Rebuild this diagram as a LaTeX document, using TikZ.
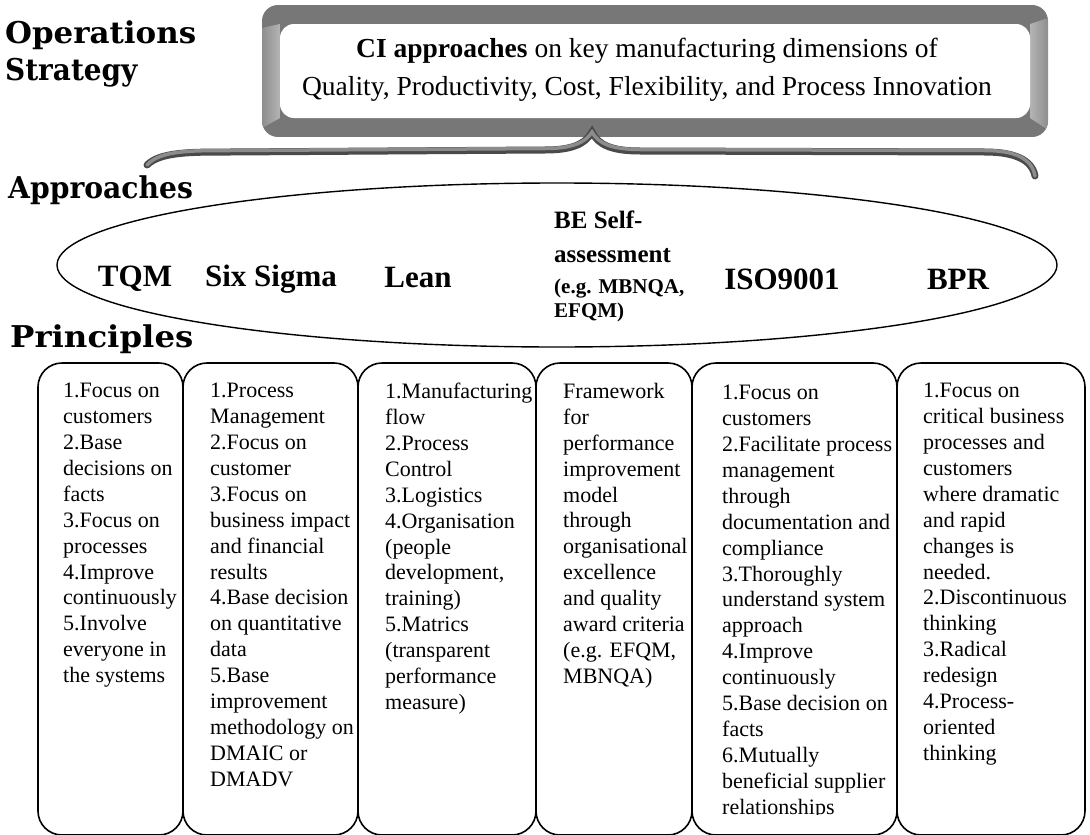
\documentclass[tikz,border=0pt]{standalone}
\usepackage{graphicx}
\usepackage{fontspec}
\setmainfont{Liberation Serif}
\newfontfamily\headfont{DejaVu Serif}
\usetikzlibrary{calc,shapes.geometric}

\definecolor{bandDark}{HTML}{777777}
\definecolor{bandLight}{HTML}{B4B4B4}
\definecolor{bandMid}{HTML}{8E8E8E}
\definecolor{braceDark}{HTML}{4A4A4A}
\definecolor{braceLight}{HTML}{8C8C8C}

\tikzset{
  heading/.style={anchor=base west, inner sep=0, font=\headfont\bfseries\fontsize{30}{36}\selectfont},
  approach/.style={inner sep=0, font=\bfseries\fontsize{31}{36}\selectfont},
  beline/.style={anchor=base west, inner sep=0, font=\bfseries\fontsize{25}{30}\selectfont},
  besmall/.style={anchor=base west, inner sep=0, font=\bfseries\fontsize{21}{24}\selectfont},
  principlebox/.style={draw=black, line width=1.6pt, rounded corners=24pt},
  principletext/.style={anchor=north west, inner sep=0, align=left, font=\fontsize{22}{25.9}\selectfont},
  bannertext/.style={inner sep=0, align=center, font=\fontsize{27.5}{37.5}\selectfont},
}

\begin{document}
\begin{tikzpicture}[x=1pt, y=-1pt]
\useasboundingbox (0,0) rectangle (1090,835);

% ---- headings ----
\node[heading] (hops) at (5,43) {\scalebox{1.03}[1]{Operations}};
\node[heading] (hstr) at (5,80) {\scalebox{0.93}[1]{Strategy}};
\node[heading] (happ) at (8,198) {\scalebox{0.94}[1]{Approaches}};
\node[heading] (hpri) at (10,347) {\scalebox{1.08}[1]{Principles}};

% ---- bevelled banner ----
\begin{scope}
  \clip[rounded corners=16pt] (262,5) rectangle (1048,137);
  \fill[bandDark] (262,5) rectangle (1048,137);
  \shade[left color=bandMid, right color=bandLight]
    (262,28) -- (280,24) -- (280,118) -- (262,128) -- cycle;
  \shade[left color=bandLight, right color=bandMid]
    (1030,24) -- (1048,18) -- (1048,130) -- (1030,118) -- cycle;
\end{scope}
\fill[white, rounded corners=14pt] (280,24) rectangle (1030,118);
\node[bannertext] (ban) at (647,70)
  {\textbf{CI approaches} on key manufacturing dimensions of\\
   Quality, Productivity, Cost, Flexibility, and Process Innovation};

% ---- curly brace under the banner ----
\coordinate (brL) at (147,165);
\coordinate (brC) at (592,132);
\coordinate (brR) at (1035,176);
\def\bracepath{(brL) .. controls (160,152) and (190,152) .. (230,152)
  -- (545,150) .. controls (570,150) and (585,145) .. (brC)
  .. controls (598,145) and (612,151) .. (640,151)
  -- (985,152) .. controls (1015,152) and (1032,160) .. (brR)}
\draw[braceDark, line width=7pt, line cap=round] \bracepath;
\draw[braceLight, line width=3.5pt, line cap=round, shift={(0,-1.5)}] \bracepath;

% ---- approaches ellipse ----
\node[draw, line width=1.4pt, ellipse, minimum width=1000pt, minimum height=164pt, inner sep=0] (ell) at (557,265) {};
\node[approach] (tqm) at (135,279) {TQM};
\node[approach] (six) at (271,279) {Six Sigma};
\node[approach] (lean) at (418,277) {Lean};
\node[beline] (be1) at (554,228) {BE Self-};
\node[beline] (be2) at (554,262) {assessment};
\node[besmall] (be3) at (554,293) {(e.g. MBNQA,};
\node[besmall] (be4) at (554,317) {EFQM)};
\node[approach] (iso) at (782,279) {ISO9001};
\node[approach] (bpr) at (958,279) {BPR};

% ---- principle boxes ----
\draw[principlebox] (38,835) rectangle (183,363);
\draw[principlebox] (183,835) rectangle (358,363);
\draw[principlebox] (358,835) rectangle (536,363);
\draw[principlebox] (536,835) rectangle (692,363);
\draw[principlebox] (692,835) rectangle (897,363);
\draw[principlebox] (897,835) rectangle (1085,363);

\node[principletext] (p1) at (63,383) {1.Focus on\\customers\\2.Base\\decisions on\\facts\\3.Focus on\\processes\\4.Improve\\continuously\\5.Involve\\everyone in\\the systems};
\node[principletext] (p2) at (210,383) {1.Process\\Management\\2.Focus on\\customer\\3.Focus on\\business impact\\and financial\\results\\4.Base decision\\on quantitative\\data\\5.Base\\improvement\\methodology on\\DMAIC or\\DMADV};
\node[principletext] (p3) at (385,383) {1.Manufacturing\\flow\\2.Process\\Control\\3.Logistics\\4.Organisation\\(people\\development,\\training)\\5.Matrics\\(transparent\\performance\\measure)};
\node[principletext] (p4) at (563,383) {Framework\\for\\performance\\improvement\\model\\through\\organisational\\excellence\\and quality\\award criteria\\(e.g. EFQM,\\MBNQA)};
\begin{scope}
  \clip (692,363) rectangle (897,814);
  \node[principletext] (p5) at (722,385) {1.Focus on\\customers\\2.Facilitate process\\management\\through\\documentation and\\compliance\\3.Thoroughly\\understand system\\approach\\4.Improve\\continuously\\5.Base decision on\\facts\\6.Mutually\\beneficial supplier\\relationships};
\end{scope}
\node[principletext] (p6) at (923,383) {1.Focus on\\critical business\\processes and\\customers\\where dramatic\\and rapid\\changes is\\needed.\\2.Discontinuous\\thinking\\3.Radical\\redesign\\4.Process-\\oriented\\thinking};
\end{tikzpicture}
\end{document}
